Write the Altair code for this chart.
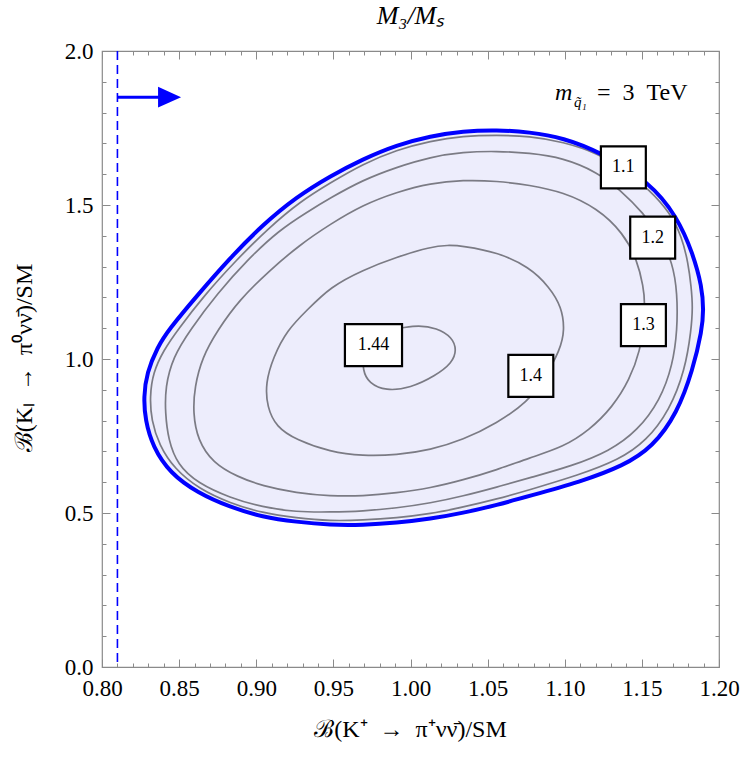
import altair as alt
import pandas as pd

SERIF = "Liberation Serif"

# ---------------- values (data units) ----------------
# outer (blue) boundary of the allowed region
bound_x = [1.034, 1.056, 1.077, 1.099, 1.123, 1.155, 1.173, 1.183, 1.189, 1.190, 1.189, 1.183, 1.173, 1.157,
           1.138, 1.110, 1.077, 1.056, 1.034, 1.013, 0.991, 0.969, 0.948, 0.926, 0.904, 0.883, 0.862, 0.844,
           0.833, 0.828, 0.827, 0.829, 0.836, 0.843, 0.862, 0.883, 0.904, 0.926, 0.948, 0.969, 0.991, 1.013]
bound_y = [1.740, 1.744, 1.737, 1.718, 1.672, 1.575, 1.461, 1.344, 1.234, 1.159, 1.094, 0.964, 0.825, 0.714,
           0.653, 0.601, 0.555, 0.526, 0.500, 0.481, 0.468, 0.461, 0.461, 0.471, 0.487, 0.519, 0.565, 0.630,
           0.714, 0.802, 0.877, 0.955, 1.039, 1.094, 1.208, 1.328, 1.435, 1.526, 1.594, 1.649, 1.695, 1.724]

c11_x = [1.034, 1.056, 1.077, 1.099, 1.121, 1.139, 1.155, 1.168, 1.176, 1.180, 1.182, 1.183, 1.182, 1.178,
         1.168, 1.153, 1.135, 1.109, 1.077, 1.056, 1.034, 1.013, 0.991, 0.969, 0.948, 0.926, 0.904, 0.883,
         0.863, 0.847, 0.837, 0.832, 0.831, 0.833, 0.840, 0.849, 0.866, 0.887, 0.908, 0.928, 0.949, 0.969,
         0.991, 1.013]
c11_y = [1.724, 1.727, 1.724, 1.705, 1.669, 1.614, 1.549, 1.477, 1.396, 1.312, 1.234, 1.169, 1.094, 0.964,
         0.834, 0.734, 0.672, 0.623, 0.575, 0.545, 0.519, 0.497, 0.484, 0.477, 0.474, 0.484, 0.500, 0.532,
         0.578, 0.643, 0.721, 0.802, 0.877, 0.955, 1.029, 1.094, 1.205, 1.321, 1.425, 1.510, 1.575, 1.633,
         1.679, 1.708]

c12_x = [1.034, 1.056, 1.077, 1.099, 1.121, 1.136, 1.151, 1.162, 1.170, 1.173, 1.173, 1.170, 1.162, 1.147,
         1.129, 1.105, 1.077, 1.056, 1.034, 1.013, 0.991, 0.969, 0.948, 0.926, 0.904, 0.883, 0.862, 0.849,
         0.843, 0.841, 0.841, 0.846, 0.857, 0.875, 0.894, 0.915, 0.933, 0.948, 0.969, 0.991, 1.013]
c12_y = [1.672, 1.675, 1.669, 1.653, 1.607, 1.549, 1.474, 1.396, 1.312, 1.214, 1.094, 0.981, 0.867, 0.766,
         0.701, 0.653, 0.614, 0.584, 0.555, 0.532, 0.516, 0.506, 0.503, 0.503, 0.519, 0.549, 0.597, 0.656,
         0.737, 0.825, 0.909, 1.006, 1.094, 1.214, 1.321, 1.419, 1.477, 1.523, 1.581, 1.623, 1.656]

c13_x = [1.034, 1.056, 1.077, 1.099, 1.121, 1.138, 1.147, 1.151, 1.152, 1.151, 1.149, 1.142, 1.131, 1.116,
         1.099, 1.077, 1.056, 1.034, 1.013, 0.991, 0.969, 0.948, 0.926, 0.904, 0.888, 0.872, 0.862, 0.859,
         0.860, 0.865, 0.875, 0.889, 0.909, 0.928, 0.948, 0.969, 0.991, 1.013]
c13_y = [1.581, 1.578, 1.565, 1.542, 1.490, 1.409, 1.321, 1.234, 1.182, 1.110, 1.029, 0.932, 0.844, 0.769,
         0.714, 0.679, 0.640, 0.607, 0.581, 0.565, 0.555, 0.555, 0.565, 0.588, 0.617, 0.662, 0.737, 0.825,
         0.909, 1.006, 1.094, 1.192, 1.289, 1.370, 1.438, 1.500, 1.542, 1.571]

c14_x = [1.024, 1.034, 1.056, 1.077, 1.090, 1.098, 1.100, 1.097, 1.087, 1.076, 1.056, 1.034, 1.013, 0.991,
         0.969, 0.948, 0.926, 0.913, 0.907, 0.906, 0.911, 0.920, 0.933, 0.948, 0.969, 0.991, 1.013]
c14_y = [1.370, 1.367, 1.347, 1.299, 1.234, 1.169, 1.094, 1.029, 0.938, 0.860, 0.792, 0.737, 0.705, 0.688,
         0.685, 0.698, 0.737, 0.779, 0.844, 0.922, 1.006, 1.094, 1.159, 1.234, 1.289, 1.331, 1.364]

c144_x = [0.995, 1.005, 1.017, 1.027, 1.030, 1.027, 1.016, 1.000, 0.984, 0.973, 0.969, 0.969, 0.979]
c144_y = [1.101, 1.110, 1.101, 1.071, 1.029, 0.987, 0.945, 0.906, 0.896, 0.922, 0.961, 1.029, 1.091]

# contour labels
label_text = ["1.1", "1.2", "1.3", "1.4", "1.44"]
label_x = [1.138, 1.157, 1.151, 1.078, 0.976]
label_y = [1.622, 1.394, 1.110, 0.945, 1.045]

# lower bound (dashed) and arrow
bound_line_x = [0.81]
arrow_x0 = [0.81]
arrow_x1 = [0.840]
arrow_head_x = [0.8438]
arrow_y = [1.85]

# axis ticks
x_major = [0.80, 0.85, 0.90, 0.95, 1.00, 1.05, 1.10, 1.15, 1.20]
x_minor = [round(0.80 + 0.01 * i, 2) for i in range(41) if i % 5 != 0]
y_major = [0.0, 0.5, 1.0, 1.5, 2.0]
y_minor = [round(0.1 * i, 1) for i in range(21) if i % 5 != 0]

x_title = "\u212C(K\u207A\u2002\u2192\u2002\u03C0\u207A\u03BD\u03BD\u0304)/SM"
y_title = "\u212C(K\u2097\u2002\u2192\u2002\u03C0\u2070\u03BD\u03BD\u0304)/SM"
top_title = "M\u2083/M\u209B"

# ---------------- build tables ----------------
def ring(xs, ys, level):
    return pd.DataFrame({"x": xs, "y": ys, "i": list(range(len(xs))), "level": level})

boundary = ring(bound_x, bound_y, "boundary")
contours = pd.concat([
    ring(c11_x, c11_y, "1.1"),
    ring(c12_x, c12_y, "1.2"),
    ring(c13_x, c13_y, "1.3"),
    ring(c14_x, c14_y, "1.4"),
    ring(c144_x, c144_y, "1.44"),
], ignore_index=True)
labels = pd.DataFrame({"label": label_text, "x": label_x, "y": label_y})
dash_df = pd.DataFrame({"x": bound_line_x})
arrow_df = pd.DataFrame({"x0": arrow_x0, "x1": arrow_x1, "xh": arrow_head_x, "y": arrow_y})

W, H = 617, 616
XS = alt.Scale(domain=[0.8, 1.2], nice=False, zero=False)
YS = alt.Scale(domain=[0.0, 2.0], nice=False, zero=False)
FRAME = "#8a8a8a"
CURVE = "basis-closed"

def axis(orient, values, size, labels_on=False, fmt=None, pad=8):
    kw = dict(orient=orient, values=values, tickSize=size, offset=-size, domain=False, grid=False,
              tickColor=FRAME, tickWidth=1, title=None, labels=labels_on)
    if labels_on:
        kw.update(format=fmt, labelFont=SERIF, labelFontSize=23, labelColor="black",
                  labelFlush=False, labelOverlap=False, labelPadding=pad)
    return alt.Axis(**kw)

ax_b_major = axis("bottom", x_major, 8, True, ".2f", pad=10)
ax_b_minor = axis("bottom", x_minor, 4)
ax_t_major = axis("top", x_major, 8)
ax_t_minor = axis("top", x_minor, 4)
ax_l_major = axis("left", y_major, 8, True, ".1f", pad=9)
ax_l_minor = axis("left", y_minor, 4)
ax_r_major = axis("right", y_major, 8)
ax_r_minor = axis("right", y_minor, 4)

def X(field, ax=None):
    return alt.X(field, type="quantitative", scale=XS, axis=ax)

def Y(field, ax=None):
    return alt.Y(field, type="quantitative", scale=YS, axis=ax)

fill = alt.Chart(boundary).mark_line(
    fill="#ededfc", strokeOpacity=0, interpolate=CURVE
).encode(x=X("x", ax_b_major), y=Y("y", ax_l_major), order="i:Q")

gray = alt.Chart(contours).mark_line(
    color="#7b7b84", strokeWidth=1.7, interpolate=CURVE
).encode(x=X("x", ax_b_minor), y=Y("y", ax_l_minor), detail="level:N", order="i:Q")

blue = alt.Chart(boundary).mark_line(
    color="#0000ff", strokeWidth=4, interpolate=CURVE
).encode(x=X("x", ax_t_major), y=Y("y", ax_r_major), order="i:Q")

dashed = alt.Chart(dash_df).mark_rule(
    color="#0000ff", strokeWidth=1.6, strokeDash=[9, 5]
).encode(x=X("x", ax_t_minor))

shaft = alt.Chart(arrow_df).mark_rule(color="#0000ff", strokeWidth=3).encode(
    x=X("x0"), x2="x1", y=Y("y", ax_r_minor))

head = alt.Chart(arrow_df).mark_point(
    shape="M-1,-0.9L1,0L-1,0.9Z", size=529, filled=True, color="#0000ff", opacity=1
).encode(x=X("xh"), y=Y("y"))

box_small = alt.Chart(labels).transform_filter("length(datum.label) <= 3").mark_point(
    shape="M-1.07,-1H1.07V1H-1.07Z", size=1764, filled=True, fill="white",
    stroke="black", strokeWidth=2.2, opacity=1
).encode(x=X("x"), y=Y("y"))

box_wide = alt.Chart(labels).transform_filter("length(datum.label) > 3").mark_point(
    shape="M-1.36,-1H1.36V1H-1.36Z", size=1764, filled=True, fill="white",
    stroke="black", strokeWidth=2.2, opacity=1
).encode(x=X("x"), y=Y("y"))

label_txt = alt.Chart(labels).mark_text(
    font=SERIF, fontSize=18, color="black", baseline="middle", align="center"
).encode(x=X("x"), y=Y("y"), text="label:N")

def pix_text(txt, x, y, size=20, style="normal", angle=0, align="center"):
    return alt.Chart(pd.DataFrame({"t": [txt]})).mark_text(
        font=SERIF, fontSize=size, fontStyle=style, color="black",
        align=align, baseline="middle", angle=angle
    ).encode(x=alt.value(x), y=alt.value(y), text="t:N")

t_xtitle = pix_text(x_title, W / 2, 679, 24)
t_ytitle = pix_text(y_title, -77, 307, 24, angle=270)
t_top = pix_text(top_title, W / 2, -35, 26, style="italic")
t_m = pix_text("m", 453, 42, 24, style="italic", align="left")
t_sub = pix_text("q\u0303\u2081", 472, 51, 15, style="italic", align="left")
t_tev = pix_text("=\u20023\u2002TeV", 495, 42, 24, align="left")

chart = alt.layer(
    fill, gray, blue, dashed, shaft, head, box_small, box_wide, label_txt,
    t_xtitle, t_ytitle, t_top, t_m, t_sub, t_tev
).resolve_axis(
    x="independent", y="independent"
).properties(
    width=W, height=H,
    autosize=alt.AutoSizeParams(type="none"),
    padding={"left": 102, "top": 51, "right": 31, "bottom": 94},
    background="white",
).configure_view(stroke=FRAME, strokeWidth=1.2)

chart.save("out.html", embed_options={"renderer": "svg", "actions": False})
